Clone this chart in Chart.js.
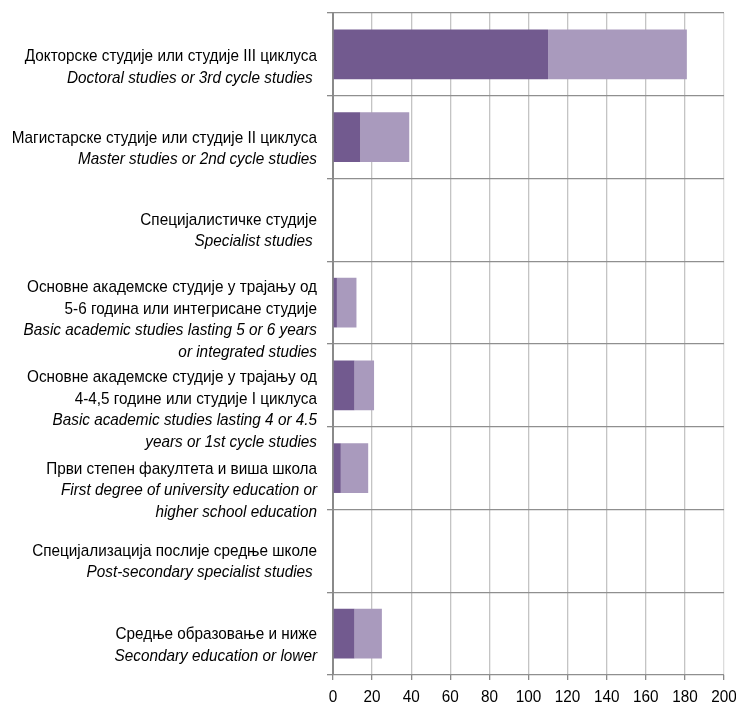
<!DOCTYPE html>
<html>
<head>
<meta charset="utf-8">
<script src="https://cdn.jsdelivr.net/npm/chart.js@4/dist/chart.umd.min.js"></script>
<style>
  html, body { margin: 0; padding: 0; background: #ffffff; }
  #wrap { width: 736px; height: 707px; }
</style>
</head>
<body>
<div id="wrap"><canvas id="c" width="736" height="707"></canvas></div>
<script>
// ---- data ----
const categoriesSr = [
  ['Докторске студије или студије III циклуса'],
  ['Магистарске студије или студије II циклуса'],
  ['Специјалистичке студије'],
  ['Основне академске студије у трајању од', '5-6 година или интегрисане студије'],
  ['Основне академске студије у трајању од', '4-4,5 године или студије I циклуса'],
  ['Први степен факултета и виша школа'],
  ['Специјализација послије средње школе'],
  ['Средње образовање и ниже']
];
const categoriesEn = [
  ['Doctoral studies or 3rd cycle studies '],
  ['Master studies or 2nd cycle studies'],
  ['Specialist studies '],
  ['Basic academic studies lasting 5 or 6 years', 'or integrated studies'],
  ['Basic academic studies lasting 4 or 4.5', 'years or 1st cycle studies'],
  ['First degree of university education or', 'higher school education'],
  ['Post-secondary specialist studies '],
  ['Secondary education or lower']
];
const seriesA = [110, 14, 0, 2, 11, 4, 0, 11];
const seriesB = [71, 25, 0, 10, 10, 14, 0, 14];
const xTicks = [0, 20, 40, 60, 80, 100, 120, 140, 160, 180, 200];

// ---- layout (not data) ----
const FONT = '"Liberation Sans", Arial, sans-serif';
const NARROW = 0.9;
const firstLineOffset = [2, 1, 0, -15, -8, 1, 0, 1];
const LINE_H = 21.5;

function narrowText(ctx, text, x, y) {
  ctx.save();
  ctx.translate(x, y);
  ctx.scale(NARROW, 1);
  ctx.fillText(text, 0, 0);
  ctx.restore();
}

const labelPlugin = {
  id: 'twoStyleLabels',
  afterDraw(chart) {
    const ctx = chart.ctx;
    const ys = chart.scales.y;
    const xs = chart.scales.x;
    ctx.save();
    ctx.fillStyle = '#000000';
    ctx.textBaseline = 'middle';
    ctx.textAlign = 'right';
    for (let i = 0; i < categoriesSr.length; i++) {
      const cy = ys.getPixelForValue(i);
      let yy = cy + firstLineOffset[i];
      ctx.font = 'normal 17px ' + FONT;
      categoriesSr[i].forEach(l => { narrowText(ctx, l, 317, yy); yy += LINE_H; });
      ctx.font = 'italic 17px ' + FONT;
      categoriesEn[i].forEach(l => { narrowText(ctx, l, 317, yy); yy += LINE_H; });
    }
    ctx.textAlign = 'center';
    ctx.font = 'normal 17px ' + FONT;
    xTicks.forEach(v => {
      narrowText(ctx, String(v), xs.getPixelForValue(v), xs.bottom - 10);
    });
    ctx.restore();
  }
};

new Chart(document.getElementById('c'), {
  type: 'bar',
  data: {
    labels: categoriesSr.map(a => a.join(' ')),
    datasets: [
      { label: 'A', data: seriesA, backgroundColor: '#725a8f', borderWidth: 0,
        barPercentage: 0.6, categoryPercentage: 1.0 },
      { label: 'B', data: seriesB, backgroundColor: '#a99abd', borderWidth: 0,
        barPercentage: 0.6, categoryPercentage: 1.0 }
    ]
  },
  options: {
    indexAxis: 'y',
    responsive: false,
    animation: false,
    devicePixelRatio: 1,
    layout: { padding: { top: 13, right: 12, left: 0, bottom: 0 } },
    plugins: { legend: { display: false }, tooltip: { enabled: false } },
    scales: {
      x: {
        stacked: true,
        min: 0, max: 200,
        afterBuildTicks: s => { s.ticks = xTicks.map(v => ({ value: v })); },
        afterFit: s => { s.height = 32; },
        grid: {
          color: ctx => (ctx.tick && ctx.tick.value === 200) ? '#dcdcdc' : '#c4c4c4',
          lineWidth: 1.3,
          tickLength: 5,
          tickColor: '#8a8a8a'
        },
        border: { display: false },
        ticks: { display: false }
      },
      y: {
        stacked: true,
        afterFit: s => { s.width = 333; },
        grid: {
          offset: true,
          color: '#8f8f8f',
          lineWidth: 1.3,
          tickLength: 6,
          tickColor: '#8a8a8a'
        },
        border: { display: true, color: '#8a8a8a', width: 2 },
        ticks: { display: false }
      }
    }
  },
  plugins: [labelPlugin]
});
</script>
</body>
</html>
